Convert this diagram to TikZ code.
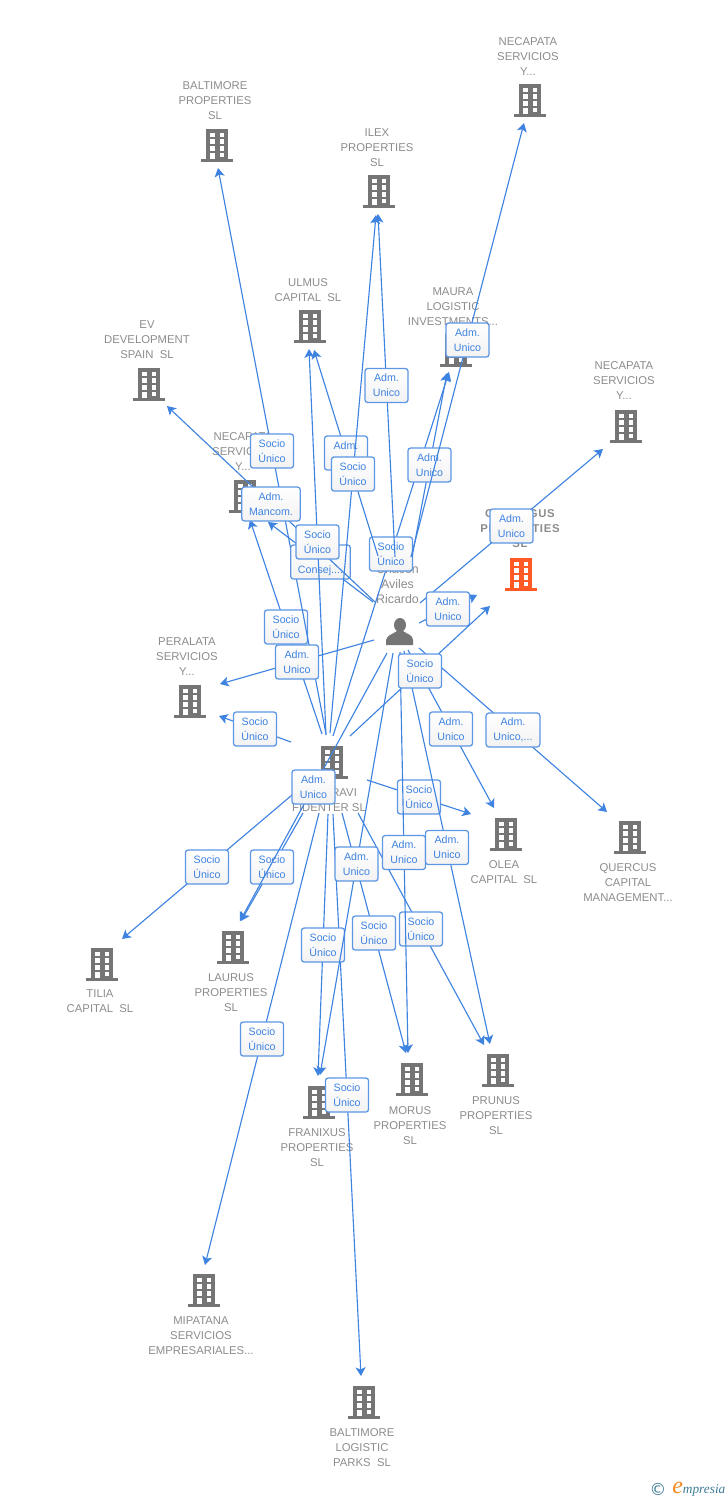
\documentclass[tikz,border=0pt]{standalone}
\usepackage{fontspec}
\setmainfont{Liberation Sans}
\newfontfamily\wmfont{Liberation Serif}
\newfontfamily\symfont{DejaVu Sans}
\usetikzlibrary{arrows.meta}
\definecolor{linkblue}{HTML}{3F83E0}
\definecolor{iconGrey}{HTML}{757575}
\definecolor{nameGrey}{HTML}{8C8C8C}
\definecolor{hotOrange}{HTML}{FF5A26}
\definecolor{wmTeal}{HTML}{3F7C96}
\definecolor{wmOrange}{HTML}{F58A1F}
\tikzset{
  x=0.75pt,y=-0.75pt,
  bld/.pic={
    \fill[pic actions] (-11,-17) rectangle (11,13);
    \fill[pic actions] (-16,13) rectangle (16,16);
    \foreach \r in {-13.3,-6.7,0,6.7}{
      \fill[white] (-6.7,\r) rectangle (-2.3,\r+4.6);
      \fill[white] (2.7,\r) rectangle (7.1,\r+4.6);
    }
    \fill[white] (-6.7,6.7) rectangle (-2.3,13);
  },
  bgrey/.style={fill=iconGrey},
  bhot/.style={fill=hotOrange},
  compname/.style={text=nameGrey,align=center,inner sep=0pt,yshift=-0.75pt,font=\fontsize{8.5}{11.25}\selectfont},
  linkline/.style={draw=linkblue,line width=0.85pt,-{Stealth[length=6.5pt,width=7.5pt,inset=1.6pt]}},
  lbl/.style={rounded corners=2.2pt,draw=linkblue!85,line width=0.95pt,top color=white,bottom color=black!5,
    text=linkblue,align=center,inner xsep=5.5pt,inner ysep=2pt,minimum width=32.4pt,minimum height=25.6pt,
    font=\fontsize{8}{11.25}\selectfont},
}
\newcommand{\conn}[5]{%
  \coordinate (#1s) at (#2);
  \coordinate (#1t) at (#3);
  \draw[linkline] (#1s) -- (#1t) node[midway,lbl] (#1) {#4\\#5};
}
\begin{document}
\begin{tikzpicture}
\useasboundingbox (0,0) rectangle (728,1500);
% companies
\pic[bgrey] (necTopIcon) at (530,101) {bld};
\node[compname] (necTop) at (528,55.5) {NECAPATA\\SERVICIOS\\Y...};
\pic[bgrey] (baltIcon) at (217,146) {bld};
\node[compname] (balt) at (215,99.5) {BALTIMORE\\PROPERTIES\\SL};
\pic[bgrey] (ilexIcon) at (379,192) {bld};
\node[compname] (ilex) at (377,146.5) {ILEX\\PROPERTIES\\SL};
\pic[bgrey] (ulmusIcon) at (310,327) {bld};
\node[compname] (ulmus) at (308,289) {ULMUS\\CAPITAL\ \ SL};
\pic[bgrey] (mauraIcon) at (456,351) {bld};
\node[compname] (maura) at (453,306) {MAURA\\LOGISTIC\\INVESTMENTS...};
\pic[bgrey] (evIcon) at (149,385) {bld};
\node[compname] (ev) at (147,339) {EV\\DEVELOPMENT\\SPAIN\ \ SL};
\pic[bgrey] (necMidIcon) at (245,497) {bld};
\node[compname] (necMid) at (243,451) {NECAPATA\\SERVICIOS\\Y...};
\pic[bgrey] (necRightIcon) at (626,427) {bld};
\node[compname] (necRight) at (624,380) {NECAPATA\\SERVICIOS\\Y...};
\pic[bhot] (hotIcon) at (521,575) {bld};
\node[compname,font=\fontsize{8.5}{11.25}\selectfont\bfseries\addfontfeature{LetterSpace=6}] (hot) at (520,528) {C\phantom{ALLIE}GUS\\PROPERTIES\\SL};
\pic[bgrey] (peralIcon) at (190,702) {bld};
\node[compname] (peral) at (187,656) {PERALATA\\SERVICIOS\\Y...};
\pic[bgrey] (raviIcon) at (332,763) {bld};
\node[compname] (ravi) at (329,799.5) {\phantom{XXXX}RAVI\\FIDENTER SL};
\pic[bgrey] (oleaIcon) at (506,835) {bld};
\node[compname] (olea) at (504,871.5) {OLEA\\CAPITAL\ \ SL};
\pic[bgrey] (quercIcon) at (630,838) {bld};
\node[compname] (querc) at (628,882) {QUERCUS\\CAPITAL\\MANAGEMENT...};
\pic[bgrey] (tiliaIcon) at (102,965) {bld};
\node[compname] (tilia) at (100,1000.5) {TILIA\\CAPITAL\ \ SL};
\pic[bgrey] (laurIcon) at (233,948) {bld};
\node[compname] (laur) at (231,992) {LAURUS\\PROPERTIES\\SL};
\pic[bgrey] (mipaIcon) at (204,1291) {bld};
\node[compname] (mipa) at (201,1335) {MIPATANA\\SERVICIOS\\EMPRESARIALES...};
\pic[bgrey] (franIcon) at (319,1103) {bld};
\node[compname] (fran) at (317,1147) {FRANIXUS\\PROPERTIES\\SL};
\pic[bgrey] (morIcon) at (412,1080) {bld};
\node[compname] (mor) at (410,1125) {MORUS\\PROPERTIES\\SL};
\pic[bgrey] (pruIcon) at (498,1071) {bld};
\node[compname] (pru) at (496,1115) {PRUNUS\\PROPERTIES\\SL};
\pic[bgrey] (blogIcon) at (364,1403) {bld};
\node[compname] (blog) at (362,1447) {BALTIMORE\\LOGISTIC\\PARKS\ \ SL};
% person
\node[compname,font=\fontsize{9.3}{11.25}\selectfont] (person) at (397.5,583) {Chacon\\Aviles\\Ricardo};
\fill[iconGrey] (400,625) ellipse (6 and 7);
\fill[iconGrey] (386,645) -- (386,640) .. controls (387,635) and (393,634) .. (397,631) -- (403,631) .. controls (407,634) and (413,635) .. (413,640) -- (413,645) -- cycle;
% connectors from the company
\conn{rBlog}{333,814}{361,1376}{Socio}{Único}
\conn{rFran}{328,814}{318,1076}{Socio}{Único}
\conn{rMor}{342,813}{406,1053}{Socio}{Único}
\conn{rPru}{358,813}{484,1045}{Socio}{Único}
\conn{rMipa}{319,813}{205,1265}{Socio}{Único}
\conn{rTilia}{292,795}{122,939}{Socio}{Único}
\conn{rLaur}{303,813}{241,921}{Socio}{Único}
\conn{rOlea}{367,780}{471,814}{Socio}{Único}
\conn{rPeral}{291,742}{219,716}{Socio}{Único}
\conn{rNec}{322,734}{250,520}{Socio}{Único}
\conn{rBalt}{326,734}{218,168}{Socio}{Único}
\conn{rMaura}{333,736}{449,372}{Socio}{Único}
% connectors from the person
\conn{pNec}{373,602}{268,522}{\strut}{Consej....}
\conn{pEv}{375,602}{167,406}{Adm.}{Mancom.}
\conn{pUlmus}{378,556}{314,350}{Adm.}{Unico}
\conn{pIlex}{395,557}{378,214}{Adm.}{Unico}
\conn{pMaura}{412,557}{447,373}{Adm.}{Unico}
\conn{pNecTop}{411,557}{524,123}{Adm.}{Unico}
\conn{pNecR}{420,603}{603,449}{Adm.}{Unico}
\conn{pHot}{419,623}{477,595}{Adm.}{Unico}
\conn{pPeral}{374,640}{220,684}{Adm.}{Unico}
\conn{pOlea}{408,650}{494,808}{Adm.}{Unico}
\conn{pQuerc}{419,648}{607,812}{Adm.}{Unico,...}
\conn{pLaur}{387,653}{240,921}{Adm.}{Unico}
\conn{pFran}{393,653}{320,1075}{Adm.}{Unico}
\conn{pMor}{400,652}{408,1053}{Adm.}{Unico}
\conn{pPru}{404,651}{490,1044}{Adm.}{Unico}
% drawn last, they lie over the others
\conn{rHot}{350,736}{490,606}{Socio}{Único}
\conn{rIlex}{330,733}{376,215}{Socio}{Único}
\conn{rUlmus}{326,735}{309,349}{Socio}{Único}
% watermark
\node[inner sep=0pt,text=wmTeal,font=\symfont\fontsize{12.5}{14}\selectfont] (wmc) at (658,1489) {©};
\node[inner sep=0pt,anchor=base west,text=wmTeal,font=\wmfont\itshape\fontsize{10}{12}\selectfont] (wmt) at (672,1493) {{\color{wmOrange}\fontsize{18}{12}\selectfont e}mpresia};
\end{tikzpicture}
\end{document}
